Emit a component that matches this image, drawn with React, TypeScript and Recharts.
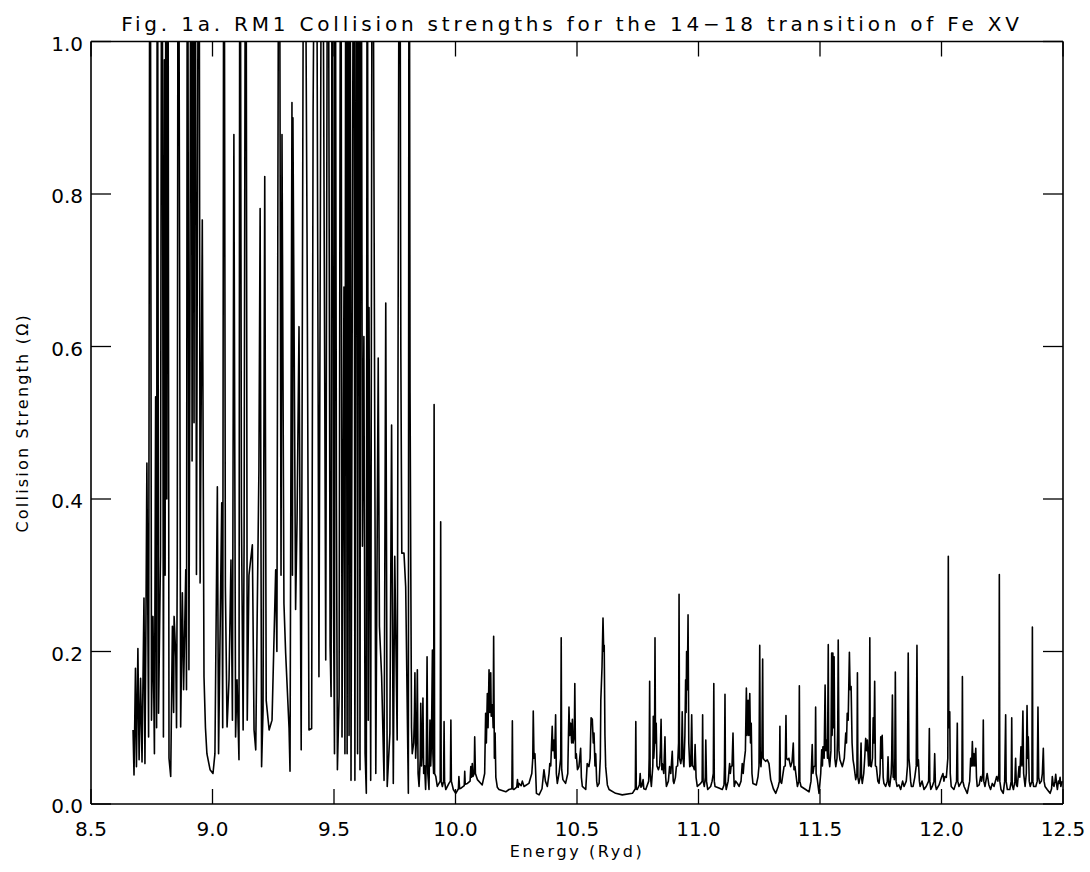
import React from 'react';
import { LineChart, Line, XAxis, YAxis } from 'recharts';

// ---- Data (energy in Ryd, collision strength Omega) ----
const energyA = [
  8.673, 8.677, 8.683, 8.687, 8.693, 8.698, 8.704, 8.710, 8.718, 8.722,
  8.726, 8.730, 8.737, 8.743, 8.749, 8.755, 8.761, 8.766, 8.770, 8.773,
  8.778, 8.786, 8.792, 8.798, 8.802, 8.805, 8.809, 8.812, 8.816, 8.821,
  8.828, 8.835, 8.840, 8.842, 8.849, 8.852, 8.855, 8.859, 8.869, 8.876,
  8.881, 8.890, 8.893, 8.897, 8.903, 8.907, 8.912, 8.916, 8.920, 8.924,
  8.928, 8.934, 8.944, 8.949, 8.958, 8.965, 8.971, 8.977, 8.990, 9.002,
  9.010, 9.020, 9.025, 9.038, 9.042, 9.047, 9.053, 9.060, 9.068, 9.076,
  9.082, 9.088, 9.095, 9.101, 9.109, 9.113, 9.119, 9.126, 9.130, 9.137,
  9.143, 9.150, 9.164, 9.171, 9.178, 9.184, 9.191, 9.196, 9.202, 9.208,
  9.215, 9.221, 9.233, 9.245, 9.260, 9.265, 9.274, 9.282, 9.286, 9.294,
  9.301, 9.315, 9.319, 9.327, 9.329, 9.331, 9.342, 9.348, 9.356, 9.365,
  9.377, 9.389, 9.397, 9.408, 9.414, 9.426, 9.438, 9.451, 9.466,
];
const omegaA = [
  0.097, 0.038, 0.178, 0.049, 0.204, 0.058, 0.165, 0.055, 0.270, 0.053,
  0.235, 0.447, 0.088, 1.5, 0.110, 0.246, 0.066, 0.534, 0.100, 1.5,
  0.119, 0.325, 1.5, 0.088, 0.976, 0.300, 1.5, 0.400, 1.5, 0.060,
  0.036, 0.233, 0.120, 0.246, 0.193, 0.100, 0.320, 1.5, 0.101, 0.277,
  0.150, 0.307, 0.150, 1.5, 0.176, 0.600, 1.5, 0.450, 1.5, 0.500,
  1.5, 0.301, 1.5, 0.290, 0.766, 0.167, 0.100, 0.066, 0.045, 0.040,
  0.066, 0.416, 0.066, 0.395, 0.100, 1.5, 0.285, 0.101, 0.163, 0.320,
  0.110, 0.878, 0.088, 0.163, 0.058, 1.5, 0.382, 0.097, 0.342, 1.5,
  0.110, 0.300, 0.340, 0.097, 0.071, 0.250, 0.438, 0.781, 0.049, 0.123,
  0.823, 0.136, 0.097, 0.110, 0.307, 0.200, 1.5, 0.300, 0.878, 0.263,
  0.198, 0.100, 0.043, 0.920, 0.300, 0.900, 0.255, 0.373, 0.626, 0.071,
  1.5, 0.749, 0.097, 0.099, 0.910, 1.5, 0.167, 1.5, 0.189,
];

const energyB = [
  9.475, 9.484, 9.488, 9.493, 9.498, 9.502, 9.504, 9.510, 9.514, 9.521,
  9.528, 9.533, 9.541, 9.545, 9.549, 9.554, 9.558, 9.562, 9.566, 9.570,
  9.582, 9.586, 9.593, 9.597, 9.603, 9.607, 9.611, 9.617, 9.623, 9.628,
  9.633, 9.637, 9.641, 9.644, 9.651, 9.658, 9.672, 9.682, 9.687, 9.696,
  9.706, 9.713, 9.719, 9.730, 9.737, 9.744, 9.750, 9.760, 9.770, 9.775,
  9.779, 9.788, 9.795, 9.806, 9.809, 9.813, 9.816, 9.819, 9.822, 9.828,
  9.831, 9.833, 9.836, 9.840, 9.843, 9.846, 9.850, 9.855, 9.857, 9.860,
  9.863, 9.866, 9.869, 9.873, 9.877, 9.880, 9.883, 9.886, 9.891, 9.895,
  9.898, 9.901, 9.905, 9.907, 9.910, 9.912, 9.914, 9.919, 9.925, 9.932,
  9.937, 9.939, 9.941, 9.946, 9.951, 9.953, 9.955, 9.960, 9.973, 9.979,
  9.981, 9.983, 9.991, 10.001,
];
const omegaB = [
  1.5, 0.207, 0.141, 1.5, 0.263, 0.066, 1.5, 0.403, 0.045, 0.141,
  1.5, 0.088, 0.678, 0.066, 1.5, 0.066, 1.5, 0.090, 1.5, 0.031,
  1.5, 0.031, 1.5, 0.066, 1.5, 0.045, 1.5, 0.338, 0.613, 0.066,
  0.014, 1.5, 0.110, 0.651, 0.031, 1.5, 0.040, 0.585, 0.233, 0.167,
  0.031, 0.657, 0.023, 0.093, 0.497, 0.027, 0.325, 0.084, 1.5, 0.596,
  0.329, 0.329, 0.285, 0.014, 1.5, 0.540, 0.307, 0.100, 0.066, 0.080,
  0.120, 0.172, 0.060, 0.090, 0.176, 0.040, 0.023, 0.060, 0.132, 0.050,
  0.070, 0.139, 0.040, 0.050, 0.019, 0.060, 0.193, 0.040, 0.019, 0.110,
  0.050, 0.080, 0.202, 0.066, 0.040, 0.524, 0.040, 0.036, 0.023, 0.027,
  0.030, 0.370, 0.030, 0.023, 0.030, 0.108, 0.030, 0.019, 0.027, 0.030,
  0.110, 0.030, 0.019, 0.014,
];

const energyC = [
  10.012, 10.014, 10.017, 10.024, 10.036, 10.038, 10.040, 10.049, 10.060, 10.063,
  10.066, 10.069, 10.072, 10.077, 10.079, 10.082, 10.090, 10.110, 10.120, 10.124,
  10.127, 10.131, 10.134, 10.138, 10.141, 10.145, 10.147, 10.152, 10.155, 10.157,
  10.160, 10.163, 10.166, 10.172, 10.179, 10.207, 10.220, 10.232, 10.234, 10.236,
  10.240, 10.252, 10.255, 10.258, 10.261, 10.270, 10.275, 10.282, 10.302, 10.314,
  10.318, 10.320, 10.323, 10.327, 10.333, 10.344, 10.356, 10.364, 10.370, 10.378,
  10.385, 10.388, 10.392, 10.398, 10.401, 10.405, 10.408, 10.412, 10.415, 10.419,
  10.426, 10.433, 10.435, 10.437, 10.442, 10.453, 10.462, 10.467, 10.470, 10.474,
  10.478, 10.481, 10.484, 10.489, 10.491, 10.494, 10.497, 10.502, 10.508, 10.515,
  10.518, 10.522, 10.536, 10.542, 10.549, 10.554, 10.558, 10.563, 10.567, 10.570,
  10.574, 10.577, 10.581, 10.584, 10.591, 10.596, 10.598, 10.603, 10.607, 10.610,
  10.612, 10.615, 10.618, 10.625, 10.632, 10.659, 10.686, 10.728, 10.740, 10.742,
  10.744, 10.748, 10.757, 10.760, 10.763, 10.766, 10.772, 10.775, 10.783, 10.795,
  10.797, 10.799, 10.801, 10.806, 10.812, 10.814, 10.816, 10.819, 10.821, 10.823,
  10.826, 10.829, 10.835, 10.840, 10.843, 10.846, 10.849, 10.851, 10.857, 10.862,
  10.865, 10.868, 10.876, 10.881, 10.886, 10.892, 10.896, 10.899, 10.905, 10.909,
  10.914, 10.918, 10.920, 10.922, 10.927, 10.930, 10.933, 10.936, 10.940, 10.944,
  10.947, 10.949, 10.951, 10.954, 10.957, 10.960, 10.964, 10.968, 10.972, 10.975,
  10.979, 10.983, 10.986, 10.990, 10.995, 11.009, 11.015, 11.017, 11.019, 11.024,
  11.028, 11.030, 11.033, 11.038, 11.050, 11.056, 11.061, 11.063, 11.065, 11.068,
  11.084, 11.098, 11.105, 11.107, 11.109, 11.111, 11.114, 11.122, 11.128, 11.131,
  11.134, 11.138, 11.142, 11.145, 11.147, 11.153, 11.160,
];
const omegaC = [
  0.020, 0.036, 0.020, 0.021, 0.024, 0.043, 0.026, 0.027, 0.030, 0.049,
  0.035, 0.053, 0.036, 0.040, 0.088, 0.040, 0.032, 0.025, 0.040, 0.119,
  0.080, 0.145, 0.100, 0.176, 0.120, 0.172, 0.115, 0.130, 0.100, 0.220,
  0.060, 0.093, 0.035, 0.022, 0.019, 0.016, 0.019, 0.020, 0.109, 0.020,
  0.019, 0.022, 0.032, 0.022, 0.027, 0.024, 0.030, 0.023, 0.027, 0.040,
  0.060, 0.122, 0.060, 0.066, 0.014, 0.012, 0.020, 0.045, 0.030, 0.023,
  0.040, 0.053, 0.050, 0.102, 0.070, 0.084, 0.060, 0.117, 0.040, 0.027,
  0.040, 0.060, 0.218, 0.045, 0.032, 0.027, 0.040, 0.127, 0.090, 0.106,
  0.080, 0.111, 0.080, 0.090, 0.158, 0.060, 0.066, 0.045, 0.049, 0.073,
  0.035, 0.023, 0.019, 0.053, 0.049, 0.060, 0.113, 0.111, 0.080, 0.093,
  0.050, 0.066, 0.030, 0.023, 0.027, 0.060, 0.136, 0.180, 0.244, 0.200,
  0.208, 0.090, 0.049, 0.025, 0.019, 0.014, 0.012, 0.014, 0.020, 0.108,
  0.020, 0.019, 0.025, 0.040, 0.022, 0.023, 0.032, 0.020, 0.019, 0.030,
  0.060, 0.161, 0.040, 0.023, 0.050, 0.115, 0.060, 0.080, 0.218, 0.080,
  0.106, 0.050, 0.045, 0.050, 0.070, 0.111, 0.045, 0.053, 0.040, 0.088,
  0.035, 0.023, 0.030, 0.049, 0.040, 0.069, 0.030, 0.027, 0.035, 0.049,
  0.050, 0.080, 0.275, 0.060, 0.053, 0.060, 0.121, 0.060, 0.049, 0.090,
  0.163, 0.120, 0.200, 0.150, 0.248, 0.080, 0.049, 0.050, 0.117, 0.050,
  0.049, 0.045, 0.078, 0.035, 0.023, 0.027, 0.030, 0.117, 0.030, 0.023,
  0.035, 0.084, 0.030, 0.019, 0.023, 0.030, 0.040, 0.158, 0.030, 0.023,
  0.021, 0.019, 0.025, 0.050, 0.144, 0.030, 0.019, 0.030, 0.053, 0.040,
  0.049, 0.050, 0.093, 0.040, 0.023, 0.030, 0.027,
];

const energyD = [
  11.167, 11.175, 11.180, 11.184, 11.187, 11.193, 11.197, 11.200, 11.204, 11.207,
  11.211, 11.214, 11.217, 11.220, 11.224, 11.238, 11.245, 11.249, 11.252, 11.254,
  11.257, 11.261, 11.264, 11.266, 11.270, 11.277, 11.283, 11.290, 11.297, 11.308,
  11.318, 11.328, 11.333, 11.335, 11.337, 11.342, 11.352, 11.357, 11.360, 11.362,
  11.367, 11.372, 11.375, 11.379, 11.385, 11.390, 11.393, 11.397, 11.407, 11.413,
  11.415, 11.417, 11.422, 11.441, 11.455, 11.463, 11.468, 11.471, 11.475, 11.480,
  11.482, 11.484, 11.489, 11.496, 11.503, 11.507, 11.510, 11.512, 11.517, 11.521,
  11.524, 11.528, 11.531, 11.534, 11.536, 11.540, 11.545, 11.548, 11.550, 11.553,
  11.555, 11.558, 11.561, 11.565, 11.570, 11.573, 11.575, 11.578, 11.582, 11.592,
  11.600, 11.606, 11.609, 11.612, 11.616, 11.621, 11.624, 11.628, 11.632, 11.636,
  11.640, 11.647, 11.652, 11.654, 11.656, 11.660, 11.665, 11.669, 11.671, 11.674,
  11.680, 11.684, 11.688, 11.692, 11.695, 11.700, 11.703, 11.705, 11.707, 11.711,
  11.716, 11.719, 11.722, 11.725, 11.728, 11.732, 11.738, 11.743, 11.747, 11.750,
  11.753, 11.756, 11.760, 11.763, 11.770, 11.777, 11.780, 11.783, 11.787, 11.793,
  11.795, 11.798, 11.801, 11.804, 11.806, 11.808, 11.810, 11.813, 11.817, 11.825,
  11.832, 11.840, 11.846, 11.855, 11.860, 11.863, 11.866, 11.869, 11.873, 11.876,
  11.883, 11.890, 11.896, 11.899, 11.902, 11.905, 11.909, 11.912, 11.920, 11.928,
  11.937, 11.947, 11.950, 11.952, 11.956, 11.962, 11.969, 11.972, 11.975, 11.979,
  11.990, 12.000, 12.006, 12.010, 12.014, 12.020, 12.026, 12.028, 12.030, 12.034,
  12.036, 12.040, 12.051, 12.062, 12.065, 12.067, 12.072, 12.084, 12.086, 12.088,
  12.093, 12.106, 12.116, 12.120, 12.124, 12.127, 12.130, 12.134, 12.137, 12.141,
  12.144, 12.147, 12.155, 12.161, 12.165, 12.170, 12.172, 12.174, 12.179, 12.188,
  12.195, 12.202, 12.209, 12.216, 12.227, 12.232, 12.236, 12.238, 12.240, 12.245,
  12.254, 12.260, 12.264, 12.266, 12.271, 12.281, 12.287, 12.289, 12.291, 12.296,
  12.302, 12.305, 12.308, 12.312, 12.319, 12.322, 12.327, 12.331, 12.335, 12.338,
  12.344, 12.349, 12.352, 12.355, 12.357, 12.361, 12.365, 12.372, 12.374, 12.376,
  12.379, 12.388, 12.394, 12.397, 12.400, 12.404, 12.411, 12.415, 12.419, 12.422,
  12.426, 12.435, 12.447, 12.453, 12.456, 12.460, 12.463, 12.467, 12.470, 12.474,
  12.477, 12.481, 12.484, 12.488, 12.491, 12.497,
];
const omegaD = [
  0.023, 0.030, 0.053, 0.040, 0.053, 0.070, 0.152, 0.090, 0.136, 0.090,
  0.145, 0.080, 0.106, 0.040, 0.027, 0.025, 0.036, 0.050, 0.208, 0.060,
  0.049, 0.070, 0.190, 0.060, 0.058, 0.056, 0.058, 0.053, 0.032, 0.020,
  0.014, 0.023, 0.030, 0.102, 0.030, 0.027, 0.049, 0.050, 0.116, 0.060,
  0.058, 0.060, 0.055, 0.049, 0.055, 0.080, 0.045, 0.049, 0.023, 0.030,
  0.155, 0.030, 0.023, 0.019, 0.016, 0.030, 0.078, 0.040, 0.049, 0.050,
  0.127, 0.040, 0.032, 0.014, 0.040, 0.071, 0.050, 0.075, 0.060, 0.156,
  0.070, 0.084, 0.060, 0.209, 0.060, 0.049, 0.070, 0.198, 0.090, 0.198,
  0.100, 0.193, 0.060, 0.049, 0.060, 0.100, 0.215, 0.070, 0.058, 0.049,
  0.060, 0.093, 0.080, 0.119, 0.110, 0.199, 0.150, 0.154, 0.080, 0.058,
  0.050, 0.032, 0.040, 0.172, 0.035, 0.027, 0.035, 0.080, 0.035, 0.027,
  0.040, 0.060, 0.086, 0.070, 0.084, 0.050, 0.070, 0.218, 0.050, 0.049,
  0.060, 0.113, 0.080, 0.161, 0.050, 0.049, 0.030, 0.027, 0.040, 0.088,
  0.060, 0.090, 0.035, 0.027, 0.023, 0.030, 0.062, 0.025, 0.023, 0.040,
  0.060, 0.143, 0.035, 0.040, 0.032, 0.060, 0.173, 0.030, 0.023, 0.025,
  0.019, 0.030, 0.023, 0.030, 0.050, 0.198, 0.060, 0.049, 0.030, 0.023,
  0.023, 0.035, 0.050, 0.208, 0.050, 0.058, 0.030, 0.023, 0.030, 0.019,
  0.023, 0.030, 0.099, 0.030, 0.019, 0.023, 0.030, 0.066, 0.025, 0.019,
  0.025, 0.035, 0.040, 0.030, 0.036, 0.035, 0.060, 0.325, 0.100, 0.121,
  0.040, 0.023, 0.019, 0.030, 0.106, 0.030, 0.023, 0.030, 0.167, 0.030,
  0.023, 0.014, 0.030, 0.060, 0.050, 0.082, 0.050, 0.066, 0.050, 0.073,
  0.035, 0.023, 0.025, 0.036, 0.030, 0.040, 0.110, 0.030, 0.023, 0.040,
  0.025, 0.019, 0.027, 0.023, 0.036, 0.030, 0.040, 0.301, 0.030, 0.019,
  0.014, 0.030, 0.117, 0.030, 0.019, 0.019, 0.030, 0.113, 0.025, 0.019,
  0.030, 0.060, 0.025, 0.023, 0.049, 0.035, 0.075, 0.050, 0.122, 0.040,
  0.023, 0.040, 0.129, 0.060, 0.088, 0.030, 0.023, 0.030, 0.232, 0.030,
  0.023, 0.023, 0.030, 0.127, 0.035, 0.027, 0.030, 0.040, 0.073, 0.030,
  0.023, 0.019, 0.014, 0.020, 0.036, 0.025, 0.023, 0.030, 0.039, 0.025,
  0.019, 0.030, 0.027, 0.035, 0.023, 0.030,
];

const xTicks = [8.5, 9.0, 9.5, 10.0, 10.5, 11.0, 11.5, 12.0, 12.5];
const yTicks = [0.0, 0.2, 0.4, 0.6, 0.8, 1.0];
const titleText = 'Fig. 1a. RM1 Collision strengths for the 14\u221218 transition of Fe XV';
const xLabelText = 'Energy (Ryd)';
const yLabelText = 'Collision Strength (\u03A9)';

const energies = [...energyA, ...energyB, ...energyC, ...energyD];
const omegas = [...omegaA, ...omegaB, ...omegaC, ...omegaD];
const data = energies.map((e, i) => ({ energy: e, omega: omegas[i] }));

const FONT = '"DejaVu Sans", "Liberation Sans", sans-serif';
const INK = '#000';

function BottomTick(props: any) {
  const { x, y, payload } = props;
  return (
    <g>
      <line x1={x} y1={y} x2={x} y2={y - 15} stroke={INK} strokeWidth={1.3} />
      <text x={x} y={y + 32} textAnchor="middle" fontFamily={FONT} fontSize={20} fill={INK}>
        {Number(payload.value).toFixed(1)}
      </text>
    </g>
  );
}
function TopTick(props: any) {
  const { x, y } = props;
  return <line x1={x} y1={y} x2={x} y2={y + 15} stroke={INK} strokeWidth={1.3} />;
}
function LeftTick(props: any) {
  const { x, y, payload } = props;
  return (
    <g>
      <line x1={x} y1={y} x2={x + 20} y2={y} stroke={INK} strokeWidth={1.3} />
      <text x={x - 8} y={y + 9} textAnchor="end" fontFamily={FONT} fontSize={20} fill={INK}>
        {Number(payload.value).toFixed(1)}
      </text>
    </g>
  );
}
function RightTick(props: any) {
  const { x, y } = props;
  return <line x1={x} y1={y} x2={x - 20} y2={y} stroke={INK} strokeWidth={1.3} />;
}

function TitleLabel(props: any) {
  const vb = props.viewBox || { x: 91, y: 0, width: 972, height: 41.5 };
  return (
    <text x={vb.x + vb.width / 2 - 5} y={31} textAnchor="middle" fontFamily={FONT} fontSize={20}
      letterSpacing={3.8} fill={INK}>
      {titleText}
    </text>
  );
}
function XLabel(props: any) {
  const vb = props.viewBox || { x: 91, y: 804, width: 972, height: 68 };
  return (
    <text x={vb.x + vb.width / 2} y={vb.y + 53} textAnchor="middle" fontFamily={FONT} fontSize={16}
      letterSpacing={2.6} fill={INK}>
      {xLabelText}
    </text>
  );
}
function YLabel(props: any) {
  const vb = props.viewBox || { x: 0, y: 41.5, width: 91, height: 762.5 };
  const cx = 28;
  const cy = vb.y + vb.height / 2;
  return (
    <text x={cx} y={cy} transform={`rotate(-90, ${cx}, ${cy})`} textAnchor="middle" fontFamily={FONT}
      fontSize={16} letterSpacing={2.2} fill={INK}>
      {yLabelText}
    </text>
  );
}

export default function App() {
  return (
    <div style={{ position: 'absolute', left: 0, top: 0, width: 1090, height: 872, background: '#fff' }}>
      <LineChart width={1090} height={872} data={data} margin={{ top: 0, right: 0, bottom: 0, left: 0 }}>
        <XAxis xAxisId="bottom" orientation="bottom" dataKey="energy" type="number" domain={[8.5, 12.5]}
          allowDataOverflow ticks={xTicks} interval={0} height={68} tickSize={0} tickMargin={0}
          tickLine={false} tick={<BottomTick />} axisLine={{ stroke: INK, strokeWidth: 1.6 }}
          label={{ content: XLabel }} />
        <XAxis xAxisId="top" orientation="top" dataKey="energy" type="number" domain={[8.5, 12.5]}
          allowDataOverflow ticks={xTicks} interval={0} height={41.5} tickSize={0} tickMargin={0}
          tickLine={false} tick={<TopTick />} axisLine={{ stroke: INK, strokeWidth: 1.6 }}
          label={{ content: TitleLabel }} />
        <YAxis yAxisId="left" orientation="left" type="number" domain={[0, 1]} allowDataOverflow
          ticks={yTicks} interval={0} width={91} tickSize={0} tickMargin={0} tickLine={false}
          tick={<LeftTick />} axisLine={{ stroke: INK, strokeWidth: 1.6 }} label={{ content: YLabel }} />
        <YAxis yAxisId="right" orientation="right" type="number" domain={[0, 1]} allowDataOverflow
          ticks={yTicks} interval={0} width={27} tickSize={0} tickMargin={0} tickLine={false}
          tick={<RightTick />} axisLine={{ stroke: INK, strokeWidth: 1.6 }} />
        <Line xAxisId="bottom" yAxisId="left" type="linear" dataKey="omega" stroke={INK} strokeWidth={1.6}
          dot={false} activeDot={false} isAnimationActive={false} strokeLinejoin="round" />
      </LineChart>
    </div>
  );
}
